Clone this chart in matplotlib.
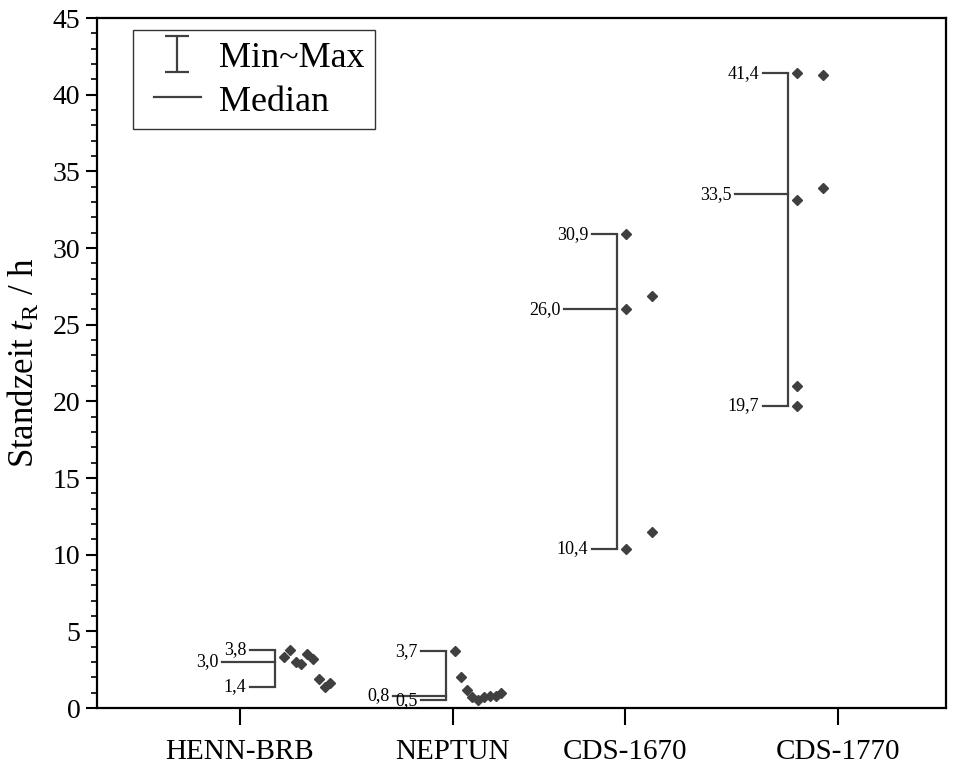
import numpy as np
import matplotlib
matplotlib.use("Agg")
import matplotlib.pyplot as plt
from matplotlib.lines import Line2D
from matplotlib.container import ErrorbarContainer
from matplotlib.legend_handler import HandlerLine2D, HandlerErrorbar

plt.rcParams['font.family'] = ['Liberation Serif', 'DejaVu Serif']
plt.rcParams['mathtext.fontset'] = 'custom'
plt.rcParams['mathtext.rm'] = 'Liberation Serif'
plt.rcParams['mathtext.it'] = 'Liberation Serif:italic'

# ---- data ----
categories = ['HENN-BRB', 'NEPTUN', 'CDS-1670', 'CDS-1770']
henn_brb = [3.3, 3.8, 3.0, 2.9, 3.5, 3.2, 1.9, 1.4, 1.6]
neptun = [3.7, 2.0, 1.2, 0.7, 0.5, 0.7, 0.8, 0.8, 1.0]
cds_1670 = [30.9, 26.0, 10.4, 26.9, 11.5]
cds_1770 = [41.4, 33.1, 21.0, 19.7, 41.3, 33.9]
series = [henn_brb, neptun, cds_1670, cds_1770]

# ---- layout ----
box_pos = [1, 2, 3, 4]
tick_pos = [0.795, 2.04, 3.047, 4.29]
slots = [list(range(9)), list(range(9)), [0, 0, 0, 1, 1], [0, 0, 0, 0, 1, 1]]
slot_step = [0.034, 0.034, 0.152, 0.152]
slot_start = 0.052
cap_len = 0.146
med_len = 0.31
gap = 0.022
col = '#404040'

fig = plt.figure(figsize=(9.56, 7.65), dpi=100)
ax = fig.add_axes([97/956, 1-708/765, 849/956, 690/765])

fmt = lambda x: f"{x:.1f}".replace('.', ',')
for i, vals in enumerate(series):
    p = box_pos[i]
    v = np.array(vals)
    vmin, vmax, vmed = v.min(), v.max(), np.median(v)
    # bracket
    ax.plot([p, p], [vmin, vmax], color=col, lw=1.6, solid_capstyle='butt', zorder=2)
    ax.plot([p - cap_len, p], [vmax, vmax], color=col, lw=1.6, zorder=2)
    ax.plot([p - cap_len, p], [vmin, vmin], color=col, lw=1.6, zorder=2)
    ax.plot([p - med_len, p], [vmed, vmed], color=col, lw=1.6, zorder=2)
    for val, ln in [(vmax, cap_len), (vmin, cap_len), (vmed, med_len)]:
        ax.text(p - ln - gap, val, fmt(val), ha='right', va='center',
                fontsize=13, color='black', clip_on=True, zorder=3)
    xs = [p + slot_start + s * slot_step[i] for s in slots[i]]
    ax.plot(xs, vals, linestyle='none', marker='D', markersize=5.6,
            color=col, markeredgecolor=col, zorder=4)

ax.set_xlim(-0.041, 4.924)
ax.set_ylim(0, 45)
ax.set_xticks(tick_pos)
ax.set_xticklabels(categories, fontsize=21)
ax.set_yticks(np.arange(0, 46, 5))
ax.set_yticks(np.arange(0, 46, 1), minor=True)
ax.tick_params(axis='y', which='major', direction='out', length=8, width=1.5, labelsize=20, pad=4)
ax.tick_params(axis='y', which='minor', direction='out', length=4, width=1.2)
ax.tick_params(axis='x', which='major', direction='out', length=12, width=1.5, pad=10)
for s in ax.spines.values():
    s.set_linewidth(1.6)
    s.set_color('black')

ax.set_ylabel(r'Standzeit $t_\mathrm{R}$ / h', fontsize=25, labelpad=8)

# legend
eb = ax.errorbar([np.nan], [np.nan], yerr=[1], fmt='none', ecolor=col,
                 elinewidth=1.6, capsize=8.5, capthick=1.6, label='Min~Max')
ln, = ax.plot([np.nan], [np.nan], color=col, lw=1.6, label='Median')
leg = ax.legend(handles=[eb, ln], loc='upper left', bbox_to_anchor=(0.0424, 0.9826),
                borderaxespad=0, fontsize=26, frameon=True, fancybox=False,
                handlelength=1.6, handleheight=0.85, handletextpad=0.5,
                borderpad=0.28, labelspacing=0.25,
                handler_map={Line2D: HandlerLine2D(xpad=0.3),
                             ErrorbarContainer: HandlerErrorbar(xpad=0.3)})
leg.get_frame().set_edgecolor('black')
leg.get_frame().set_linewidth(1.0)

fig.savefig('out.png', dpi=100)
